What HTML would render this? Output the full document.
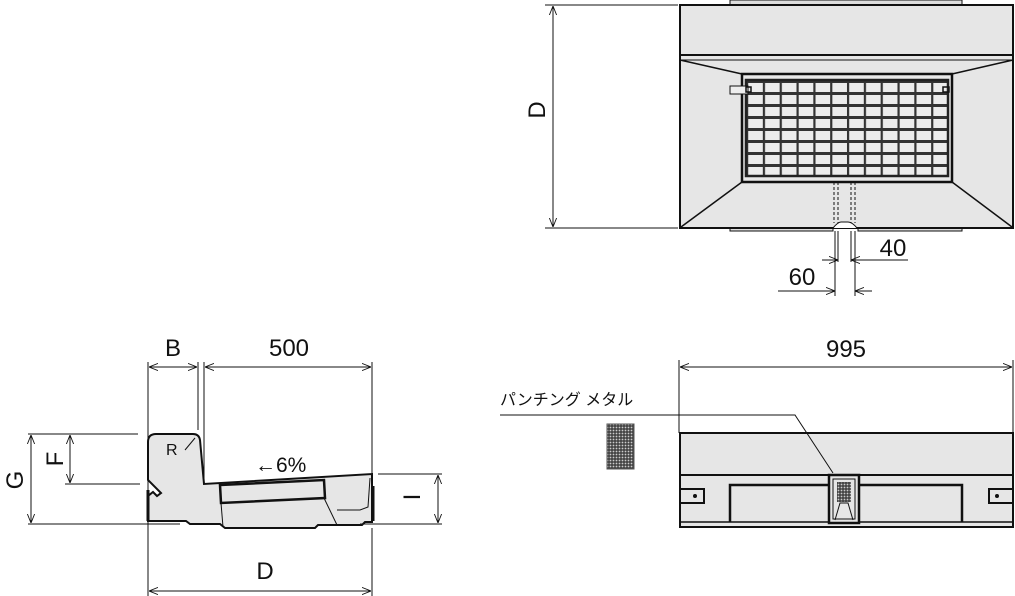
<!DOCTYPE html>
<html><head><meta charset="utf-8"><style>
html,body{margin:0;padding:0;background:#fff;width:1015px;height:596px;overflow:hidden}
svg{display:block}
text{font-family:"Liberation Sans","Noto Sans CJK JP",sans-serif;fill:#111}
</style></head><body>
<svg width="1015" height="596" viewBox="0 0 1015 596" xmlns="http://www.w3.org/2000/svg">
<defs>
<marker id="a" viewBox="0 0 10 10" refX="10" refY="5" markerWidth="9" markerHeight="9" orient="auto-start-reverse" markerUnits="userSpaceOnUse"><path d="M0,1 L10,5 L0,9" fill="none" stroke="#111" stroke-width="1"/></marker>
<pattern id="g" x="746" y="80" width="16.83" height="12" patternUnits="userSpaceOnUse">
<rect width="16.83" height="12" fill="#ececec"/>
<rect x="0" y="0" width="16.83" height="3" fill="#333"/>
<rect x="0" y="0" width="2.2" height="12" fill="#333"/>
</pattern>
<pattern id="p" width="3" height="3" patternUnits="userSpaceOnUse"><rect width="3" height="3" fill="#444"/><circle cx="1.5" cy="1.5" r="0.9" fill="#ccc"/></pattern>
</defs>
<g stroke="#111" fill="none" stroke-width="1">
<rect x="730" y="0" width="232" height="5" fill="#ddd"/>
<rect x="730" y="227" width="103" height="4" fill="#ddd"/>
<rect x="858" y="227" width="104" height="4" fill="#ddd"/>
<rect x="680" y="5" width="333" height="223" fill="#e6e6e6" stroke-width="2"/>
<line x1="680" y1="55" x2="1013" y2="55" stroke-width="2"/>
<line x1="680" y1="60" x2="1013" y2="60"/>
<line x1="680" y1="60" x2="742" y2="74" stroke-width="1.5"/>
<line x1="1013" y1="60" x2="952" y2="74" stroke-width="1.5"/>
<line x1="742" y1="182" x2="681" y2="227" stroke-width="1.5"/>
<line x1="952" y1="182" x2="1012" y2="227" stroke-width="1.5"/>
<rect x="742" y="74" width="210" height="108" fill="#e8e8e8" stroke-width="2.5"/>
<rect x="746" y="80" width="202" height="96" fill="url(#g)" stroke="#222" stroke-width="2.5"/>
<rect x="730" y="86" width="18" height="8" fill="#eee"/>
<rect x="746" y="87" width="5" height="5" stroke-width="1.5"/>
<rect x="943" y="87" width="6" height="5" stroke-width="1.5"/>
<g stroke-dasharray="3,2"><line x1="834" y1="182" x2="834" y2="223"/><line x1="838" y1="182" x2="838" y2="223"/><line x1="851" y1="182" x2="851" y2="223"/><line x1="855" y1="182" x2="855" y2="223"/></g>
<path d="M833,228 Q838,222 841,222 L848,222 Q852,222 857,228" fill="#fff"/>
<line x1="545" y1="5" x2="678" y2="5"/><line x1="545" y1="228" x2="678" y2="228"/>
<line x1="553" y1="6" x2="553" y2="227" marker-start="url(#a)" marker-end="url(#a)"/>
<line x1="835" y1="231" x2="835" y2="296"/><line x1="838" y1="231" x2="838" y2="262"/>
<line x1="851" y1="231" x2="851" y2="262"/><line x1="855" y1="231" x2="855" y2="296"/>
<line x1="822" y1="260" x2="838" y2="260" marker-end="url(#a)"/>
<line x1="908" y1="260" x2="851" y2="260" marker-end="url(#a)"/>
<line x1="778" y1="291" x2="835" y2="291" marker-end="url(#a)"/>
<line x1="872" y1="291" x2="855" y2="291" marker-end="url(#a)"/>
<line x1="679" y1="360" x2="679" y2="433"/><line x1="1013" y1="360" x2="1013" y2="433"/>
<line x1="680" y1="367" x2="1012" y2="367" marker-start="url(#a)" marker-end="url(#a)"/>
<rect x="680" y="433" width="333" height="94" fill="#e6e6e6" stroke-width="2"/>
<line x1="680" y1="475" x2="1013" y2="475" stroke-width="2"/>
<line x1="680" y1="522" x2="1013" y2="522" stroke-width="1.5"/>
<path d="M730,522 V485 H962 V522" stroke-width="2.5"/>
<rect x="829" y="475" width="30" height="48" fill="#e6e6e6" stroke-width="2.5"/>
<rect x="833" y="479" width="22" height="40" stroke-width="1"/>
<rect x="837" y="482" width="14" height="20" fill="url(#p)" stroke="none"/>
<path d="M835,520 L840,503 H848 L853,520" stroke-width="1"/>
<path d="M680,489 H704 V503 H680" stroke-width="2"/><circle cx="695" cy="496" r="1.5" fill="#111"/>
<path d="M1013,489 H989 V503 H1013" stroke-width="2"/><circle cx="997" cy="496" r="1.5" fill="#111"/>
<rect x="607" y="424" width="27" height="45" fill="url(#p)" stroke="#555"/>
<path d="M500,415 H795 L833,473"/>
<path d="M148,442 Q148,434 156,434 L193,434 Q199,434 200,440 L204,484 L372,474 L372,522 L365,522 L362,525 L318,525 L315,528 L225,528 L220,524 L190,524 L186,521 L148,521 L148,496 L153,492 L157,496 L161,493 L148,480 Z" fill="#e6e6e6" stroke-width="2"/>
<line x1="148" y1="490" x2="148" y2="521" stroke-width="3"/>
<line x1="373" y1="486" x2="373" y2="521" stroke-width="3"/>
<path d="M220,485 L324,480 L325,498 L221,503 Z" stroke-width="2.5"/>
<line x1="221" y1="503" x2="223" y2="527"/>
<path d="M324,498 L337,525"/>
<path d="M370,478 L368,507 L360,510 L337,510"/>
<line x1="185" y1="450" x2="195" y2="438"/>
<line x1="148" y1="362" x2="148" y2="596"/><line x1="198" y1="362" x2="198" y2="430"/>
<line x1="204" y1="362" x2="204" y2="484"/><line x1="372" y1="362" x2="372" y2="474"/><line x1="372" y1="528" x2="372" y2="596"/>
<line x1="149" y1="367" x2="197" y2="367" marker-start="url(#a)" marker-end="url(#a)"/>
<line x1="205" y1="367" x2="371" y2="367" marker-start="url(#a)" marker-end="url(#a)"/>
<line x1="28" y1="434" x2="138" y2="434"/><line x1="28" y1="524" x2="180" y2="524"/>
<line x1="65" y1="484" x2="140" y2="484"/>
<line x1="31" y1="435" x2="31" y2="523" marker-start="url(#a)" marker-end="url(#a)"/>
<line x1="70" y1="435" x2="70" y2="483" marker-start="url(#a)" marker-end="url(#a)"/>
<line x1="378" y1="474" x2="442" y2="474"/><line x1="360" y1="524" x2="442" y2="524"/>
<line x1="438" y1="475" x2="438" y2="523" marker-start="url(#a)" marker-end="url(#a)"/>
<line x1="149" y1="591" x2="371" y2="591" marker-start="url(#a)" marker-end="url(#a)"/>
</g>
<g font-size="24">
<text x="173" y="356" text-anchor="middle">B</text>
<text x="289" y="356" text-anchor="middle">500</text>
<text x="265" y="579" text-anchor="middle">D</text>
<text x="846" y="357" text-anchor="middle">995</text>
<text x="893" y="256" text-anchor="middle">40</text>
<text x="802" y="285" text-anchor="middle">60</text>
<text transform="translate(545,110) rotate(-90)" text-anchor="middle">D</text>
<text transform="translate(23,480) rotate(-90)" text-anchor="middle">G</text>
<text transform="translate(63,459) rotate(-90)" text-anchor="middle">F</text>
<text transform="translate(420,497) rotate(-90)" text-anchor="middle">I</text>
</g>
<text x="255" y="472" font-size="21">←6%</text>
<text x="166" y="455" font-size="16">R</text>
<text x="500" y="405" font-size="16">パンチング メタル</text>
</svg>
</body></html>
